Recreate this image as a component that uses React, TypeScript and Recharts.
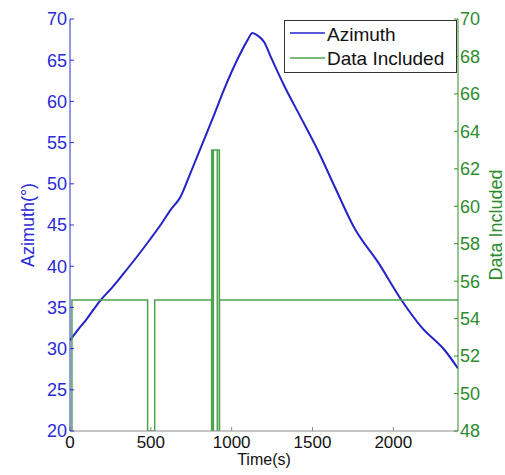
import React from 'react';
import { ComposedChart, Line, XAxis, YAxis, Legend, Label } from 'recharts';

// ---- data ----
const azimuthTime = [0, 50, 100, 186, 260, 331, 420, 497, 560, 621, 683, 745, 828, 890, 950, 1000, 1056, 1100, 1128, 1160, 1201, 1242, 1325, 1429, 1532, 1636, 1760, 1908, 2050, 2174, 2318, 2400];
const azimuthDeg = [31.0, 32.3, 33.5, 35.8, 37.4, 39.1, 41.3, 43.3, 45.0, 46.8, 48.4, 51.3, 55.3, 58.3, 61.3, 63.6, 65.9, 67.5, 68.3, 68.0, 67.2, 65.4, 61.9, 58.0, 54.1, 49.7, 44.6, 40.4, 35.9, 32.6, 29.8, 27.6];

const includedTime = [0, 12, 480, 524, 876, 877, 886, 887, 911, 912, 924, 925, 2400];
const includedValue = [48, 55, 48, 55, 48, 63, 48, 63, 48, 63, 48, 55, 55];

const timeTicks = [0, 500, 1000, 1500, 2000];
const azimuthTicks = [20, 25, 30, 35, 40, 45, 50, 55, 60, 65, 70];
const includedTicks = [48, 50, 52, 54, 56, 58, 60, 62, 64, 66, 68, 70];

const seriesNames = ['Azimuth', 'Data Included'];

const azimuthData = azimuthTime.map((t, i) => ({ t, azimuth: azimuthDeg[i] }));
const includedData = includedTime.map((t, i) => ({ t, included: includedValue[i] }));

// ---- styles ----
const FONT = '"Liberation Sans", Arial, sans-serif';
const BLUE_AXIS = '#2a2ad6';
const BLUE_LINE = '#2323c8';
const GREEN_AXIS = '#2c8c2c';
const GREEN_LINE = '#4fa34f';
const GRAY = '#8c8c8c';

const EmptyTick = () => <g />;

const renderLegend = () => (
  <svg width={174} height={54} style={{ display: 'block' }}>
    <rect x={0.5} y={0.5} width={172} height={52} fill="#fff" stroke="#333" strokeWidth={1} />
    <line x1={6} x2={41} y1={13} y2={13} stroke={BLUE_LINE} strokeWidth={1.5} />
    <text x={43} y={21} fontFamily={FONT} fontSize={19} fill="#111">{seriesNames[0]}</text>
    <line x1={6} x2={41} y1={38} y2={38} stroke={GREEN_LINE} strokeWidth={1.5} />
    <text x={43} y={45} fontFamily={FONT} fontSize={19} fill="#111">{seriesNames[1]}</text>
  </svg>
);

export default function App() {
  return (
    <div style={{ position: 'absolute', left: 0, top: 0, width: 505, height: 475, background: '#fff' }}>
      <ComposedChart width={505} height={475} margin={{ top: 19, right: 0, bottom: 0, left: 0 }}>
        <XAxis
          xAxisId="bottom"
          dataKey="t"
          type="number"
          domain={[0, 2400]}
          ticks={timeTicks}
          interval={0}
          allowDataOverflow
          height={44}
          stroke={GRAY}
          tickSize={-4}
          tickMargin={9}
          tick={{ fill: '#111', fontSize: 17, fontFamily: FONT }}
        >
          <Label
            content={(p: any) => {
              const vb = p.viewBox;
              return (
                <text x={vb.x + vb.width / 2} y={vb.y + 34} textAnchor="middle" fontFamily={FONT} fontSize={16} fill="#111">
                  Time(s)
                </text>
              );
            }}
          />
        </XAxis>
        <XAxis
          xAxisId="top"
          orientation="top"
          dataKey="t"
          type="number"
          domain={[0, 2400]}
          ticks={timeTicks}
          interval={0}
          allowDataOverflow
          height={0}
          stroke={GRAY}
          tickSize={-4}
          tick={EmptyTick}
        />
        <YAxis
          yAxisId="left"
          orientation="left"
          type="number"
          domain={[20, 70]}
          ticks={azimuthTicks}
          interval={0}
          allowDataOverflow
          width={70}
          stroke={BLUE_AXIS}
          tickSize={-4}
          tickMargin={7}
          tick={{ fill: BLUE_AXIS, fontSize: 18, fontFamily: FONT }}
        >
          <Label
            content={(p: any) => {
              const vb = p.viewBox;
              const cx = vb.x + 34;
              const cy = vb.y + vb.height / 2;
              return (
                <text x={cx} y={cy} transform={`rotate(-90, ${cx}, ${cy})`} textAnchor="middle" fontFamily={FONT} fontSize={18} fill={BLUE_AXIS}>
                  Azimuth(°)
                </text>
              );
            }}
          />
        </YAxis>
        <YAxis
          yAxisId="leftMirror"
          orientation="right"
          type="number"
          domain={[20, 70]}
          ticks={azimuthTicks}
          interval={0}
          allowDataOverflow
          width={0}
          axisLine={false}
          stroke={BLUE_AXIS}
          tickSize={-4}
          tick={EmptyTick}
        />
        <YAxis
          yAxisId="right"
          orientation="right"
          type="number"
          domain={[48, 70]}
          ticks={includedTicks}
          interval={0}
          allowDataOverflow
          width={47}
          stroke={GREEN_AXIS}
          tickSize={-4}
          tickMargin={6}
          tick={{ fill: GREEN_AXIS, fontSize: 18, fontFamily: FONT }}
        >
          <Label
            content={(p: any) => {
              const vb = p.viewBox;
              const cx = vb.x + 44;
              const cy = vb.y + vb.height / 2;
              return (
                <text x={cx} y={cy} transform={`rotate(-90, ${cx}, ${cy})`} textAnchor="middle" fontFamily={FONT} fontSize={18} fill={GREEN_AXIS}>
                  Data Included
                </text>
              );
            }}
          />
        </YAxis>
        <Line
          xAxisId="bottom"
          yAxisId="left"
          data={azimuthData}
          dataKey="azimuth"
          name={seriesNames[0]}
          type="monotone"
          stroke={BLUE_LINE}
          strokeWidth={2}
          dot={false}
          activeDot={false}
          isAnimationActive={false}
        />
        <Line
          xAxisId="bottom"
          yAxisId="right"
          data={includedData}
          dataKey="included"
          name={seriesNames[1]}
          type="stepAfter"
          stroke={GREEN_LINE}
          strokeWidth={1.5}
          dot={false}
          activeDot={false}
          isAnimationActive={false}
        />
        <Legend
          layout="vertical"
          align="center"
          verticalAlign="middle"
          content={renderLegend}
          wrapperStyle={{ position: 'absolute', left: 284, top: 20, width: 174, height: 54 }}
        />
      </ComposedChart>
    </div>
  );
}
